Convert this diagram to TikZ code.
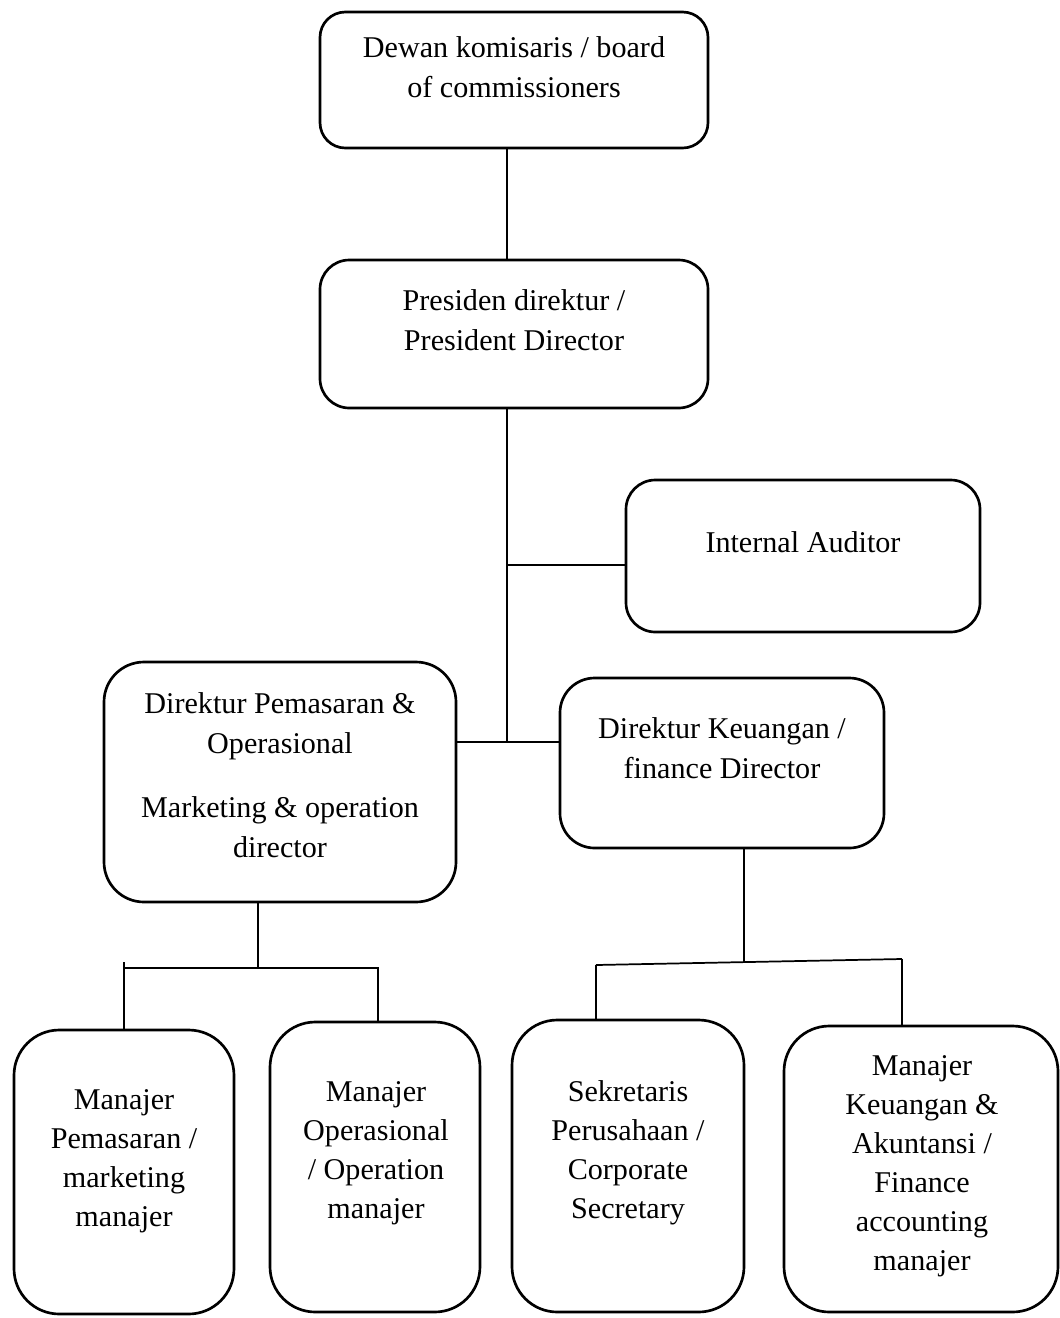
\documentclass[tikz,border=0pt]{standalone}
\usepackage{fontspec}
\setmainfont{Liberation Serif}
\begin{document}
\begin{tikzpicture}[x=0.75pt,y=-0.75pt,
  box/.style={draw,line width=2pt,rectangle,inner sep=0pt,outer sep=0pt},
  conn/.style={line width=1.3pt},
  txt/.style={align=center,font=\fontsize{22.6}{30}\selectfont,inner sep=0pt},
  txtb/.style={align=center,font=\fontsize{22.6}{29.25}\selectfont,inner sep=0pt}]
\useasboundingbox (0,0) rectangle (1060,1318);
% boxes
\node[box,rounded corners=19pt,minimum width=291pt,minimum height=102pt] (b1) at (514,80) {};
\node[box,rounded corners=22pt,minimum width=291pt,minimum height=111pt] (b2) at (514,334) {};
\node[box,rounded corners=22pt,minimum width=265.5pt,minimum height=114pt] (b3) at (803,556) {};
\node[box,rounded corners=30pt,minimum width=264pt,minimum height=180pt] (b4) at (280,782) {};
\node[box,rounded corners=26pt,minimum width=243pt,minimum height=127.5pt] (b5) at (722,763) {};
\node[box,rounded corners=34pt,minimum width=165pt,minimum height=213pt] (b6) at (124,1172) {};
\node[box,rounded corners=34pt,minimum width=157.5pt,minimum height=217.5pt] (b7) at (375,1167) {};
\node[box,rounded corners=34pt,minimum width=174pt,minimum height=219pt] (b8) at (628,1166) {};
\node[box,rounded corners=34pt,minimum width=205.5pt,minimum height=214.5pt] (b9) at (921,1169) {};
% texts
\node[txt] (t1) at (514,67) {Dewan komisaris / board\\of commissioners};
\node[txt] (t2) at (514,320) {Presiden direktur /\\President Director};
\node[txt] (t3) at (803,542) {Internal Auditor};
\node[txt] (t4) at (280,775) {Direktur Pemasaran \&\\Operasional\\[18pt]Marketing \& operation\\director};
\node[txt] (t5) at (722,748) {Direktur Keuangan /\\finance Director};
\node[txtb] (t6) at (124,1161) {Manajer\\Pemasaran /\\marketing\\manajer};
\node[txtb] (t7) at (376,1153) {Manajer\\Operasional\\/ Operation\\manajer};
\node[txtb] (t8) at (628,1153) {Sekretaris\\Perusahaan /\\Corporate\\Secretary};
\node[txtb] (t9) at (922,1166) {Manajer\\Keuangan \&\\Akuntansi /\\Finance\\accounting\\manajer};
% junctions
\coordinate (j1) at (507,742);
\coordinate (j2) at (507,565);
\coordinate (l) at (258,968);
\coordinate (l1) at (124,962);
\coordinate (l2) at (378,968);
\coordinate (r) at (744,963);
\coordinate (r1) at (596,965);
\coordinate (r2) at (902,959);
% connectors
\draw[conn] (b1.south -| j1) -- (b2.north -| j1);
\draw[conn] (b2.south -| j1) -- (j1);
\draw[conn] (j2) -- (b3.west |- j2);
\draw[conn] (b4.east |- j1) -- (b5.west |- j1);
\draw[conn] (b4.south -| l) -- (l);
\draw[conn] (l1) -- (b6.north -| l1);
\draw[conn] (l1 |- l) -- (l2) -- (b7.north -| l2);
\draw[conn] (b5.south -| r) -- (r);
\draw[conn] (r1) -- (r2);
\draw[conn] (r1) -- (b8.north -| r1);
\draw[conn] (r2) -- (b9.north -| r2);
\end{tikzpicture}
\end{document}
